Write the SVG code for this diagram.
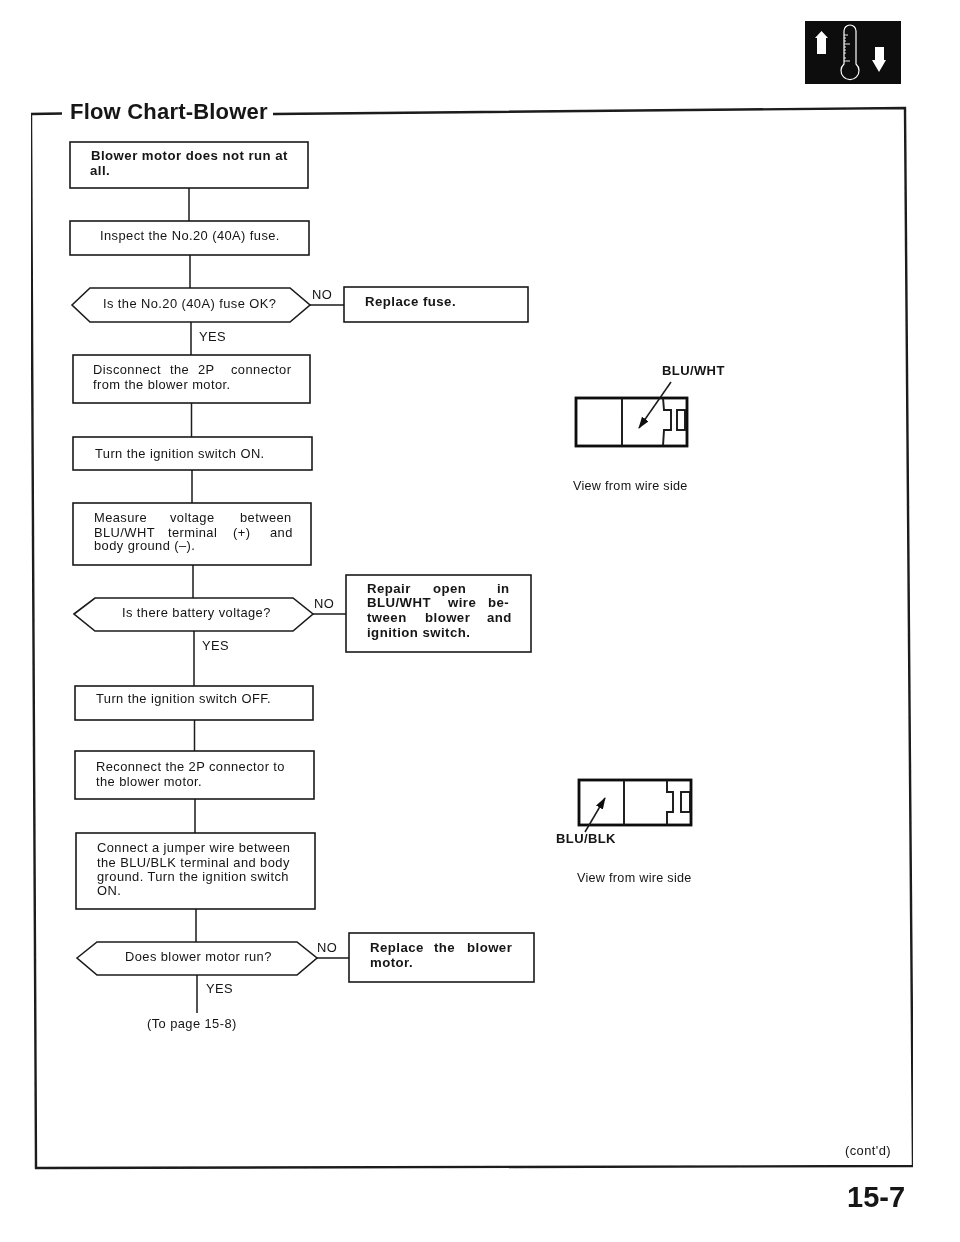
<svg xmlns="http://www.w3.org/2000/svg" width="960" height="1242" viewBox="0 0 960 1242">
<defs>
<style>
text{font-family:"Liberation Sans",Arial,sans-serif;fill:#141414}
.r{font-size:12.9px;letter-spacing:.42px}
.b{font-size:13.2px;font-weight:bold;letter-spacing:.46px}
.l{font-size:12.6px;letter-spacing:.3px}
.s{fill:#fff;stroke:#1a1a1a;stroke-width:1.6}
.c{fill:none;stroke:#1a1a1a;stroke-width:1.5}
.g{fill:none;stroke:#1a1a1a;stroke-width:1.9}
.h{fill:none;stroke:#111;stroke-width:2.8}
.f{fill:none;stroke:#1a1a1a;stroke-width:2.4}
</style>
<marker id="ah" viewBox="0 0 12 8" refX="11" refY="4" markerWidth="12" markerHeight="8" markerUnits="userSpaceOnUse" orient="auto"><path d="M0 0L12 4L0 8Z" fill="#111"/></marker>
<filter id="scan" x="0" y="0" width="100%" height="100%"><feGaussianBlur stdDeviation="0.35"/></filter>
</defs>
<rect width="960" height="1242" fill="#fff"/>
<g filter="url(#scan)">
<g id="icon">
<rect x="805" y="21" width="96" height="63" fill="#0d0d0d"/>
<path d="M817 54V38H815L821.500 31L828 38H826V54Z" fill="#fff"/>
<path d="M875 47H884V60H886L879 72L872 60H875Z" fill="#fff"/>
<path d="M844 64V31A6 6 0 0 1 856 31V64A9 9 0 1 1 844 64Z" fill="none" stroke="#fff" stroke-width="1.2"/>
<path d="M844 35H848M844 38H846M844 41H846M844 44H850M844 47H846M844 50H846M844 53H846M844 61H850M844 58H846" fill="none" stroke="#fff" stroke-width=".9"/>
</g>
<g id="frame">
<path class="f" d="M62 113.500L31 114L36 1168L913 1166L905 108L273 114"/>
<text x="70" y="119" font-size="22" font-weight="bold" letter-spacing=".2">Flow Chart-Blower</text>
</g>
<g id="connectors">
<path class="c" d="M189 188V221M190 255V288M191 322V355M191.500 403V437M192 470V503M193 565V598M194 631V686M194.500 720V751M195 799V833M196 909V942M197 975V1013M310 305H344M313 614H346M317 958H349"/>
</g>
<g id="n1"><rect class="s" x="70" y="142" width="238" height="46"/><text class="b" y="160"><tspan x="91">Blower motor does not run at</tspan><tspan x="90" y="175">all.</tspan></text></g>
<g id="n2"><rect class="s" x="70" y="221" width="239" height="34"/><text class="r" x="100" y="240">Inspect the No.20 (40A) fuse.</text></g>
<g id="n3"><path class="s" d="M72 305L90 288H290L310 305L290 322H90Z"/><text class="r" x="103" y="308">Is the No.20 (40A) fuse OK?</text></g>
<g id="n3no"><text class="r" x="312" y="299">NO</text></g>
<g id="n3yes"><text class="r" x="199" y="341">YES</text></g>
<g id="n4"><rect class="s" x="344" y="287" width="184" height="35"/><text class="b" x="365" y="306">Replace fuse.</text></g>
<g id="n5"><rect class="s" x="73" y="355" width="237" height="48"/><text class="r" y="374"><tspan x="93">Disconnect </tspan><tspan x="170">the </tspan><tspan x="198">2P </tspan><tspan x="231">connector</tspan><tspan x="93" y="389">from the blower motor.</tspan></text></g>
<g id="n6"><rect class="s" x="73" y="437" width="239" height="33"/><text class="r" x="95" y="458">Turn the ignition switch ON.</text></g>
<g id="n7"><rect class="s" x="73" y="503" width="238" height="62"/><text class="r" y="522"><tspan x="94">Measure </tspan><tspan x="170">voltage </tspan><tspan x="240">between</tspan><tspan x="94" y="537">BLU/WHT </tspan><tspan x="168">terminal </tspan><tspan x="233">(+) </tspan><tspan x="270">and</tspan><tspan x="94" y="550">body ground (–).</tspan></text></g>
<g id="n8"><path class="s" d="M74 614L95 598H293L313 614L293 631H95Z"/><text class="r" x="122" y="617">Is there battery voltage?</text></g>
<g id="n8no"><text class="r" x="314" y="608">NO</text></g>
<g id="n8yes"><text class="r" x="202" y="650">YES</text></g>
<g id="n9"><rect class="s" x="346" y="575" width="185" height="77"/><text class="b" y="593"><tspan x="367">Repair </tspan><tspan x="433">open </tspan><tspan x="497">in</tspan><tspan x="367" y="607">BLU/WHT </tspan><tspan x="448">wire </tspan><tspan x="488">be-</tspan><tspan x="367" y="622">tween </tspan><tspan x="425">blower </tspan><tspan x="487">and</tspan><tspan x="367" y="637">ignition switch.</tspan></text></g>
<g id="n10"><rect class="s" x="75" y="686" width="238" height="34"/><text class="r" x="96" y="703">Turn the ignition switch OFF.</text></g>
<g id="n11"><rect class="s" x="75" y="751" width="239" height="48"/><text class="r" y="771"><tspan x="96">Reconnect the 2P connector to</tspan><tspan x="96" y="786">the blower motor.</tspan></text></g>
<g id="n12"><rect class="s" x="76" y="833" width="239" height="76"/><text class="r" y="852"><tspan x="97">Connect a jumper wire between</tspan><tspan x="97" y="867">the BLU/BLK terminal and body</tspan><tspan x="97" y="881">ground. Turn the ignition switch</tspan><tspan x="97" y="895">ON.</tspan></text></g>
<g id="n13"><path class="s" d="M77 958L97 942H297L317 958L297 975H97Z"/><text class="r" x="125" y="961">Does blower motor run?</text></g>
<g id="n13no"><text class="r" x="317" y="952">NO</text></g>
<g id="n13yes"><text class="r" x="206" y="993">YES</text></g>
<g id="n14"><rect class="s" x="349" y="933" width="185" height="49"/><text class="b" y="952"><tspan x="370">Replace </tspan><tspan x="434">the </tspan><tspan x="467">blower</tspan><tspan x="370" y="967">motor.</tspan></text></g>
<g id="n15"><text class="r" x="147" y="1028">(To page 15-8)</text></g>
<g id="conn1">
<rect class="h" x="576" y="398" width="111" height="48"/>
<path class="g" d="M622 398V446M663 398L664 410H671V430H664L663 446"/>
<rect class="g" x="677" y="410" width="8" height="20"/>
<path class="c" d="M671 382L639 428" marker-end="url(#ah)"/>
<text x="662" y="375" font-size="13" font-weight="bold" letter-spacing=".4">BLU/WHT</text>
<text class="l" x="573" y="490">View from wire side</text>
</g>
<g id="conn2">
<rect class="h" x="579" y="780" width="112" height="45"/>
<path class="g" d="M624 780V825M667 780V792H673V812H667V825"/>
<rect class="g" x="681" y="792" width="9" height="20"/>
<path class="c" d="M585 832L605 798" marker-end="url(#ah)"/>
<text x="556" y="843" font-size="13" font-weight="bold" letter-spacing=".4">BLU/BLK</text>
<text class="l" x="577" y="882">View from wire side</text>
</g>
<text id="contd" class="r" x="845" y="1155">(cont'd)</text>
<text id="pageno" x="847" y="1207" font-size="29" font-weight="bold">15-7</text>
</g>
</svg>
